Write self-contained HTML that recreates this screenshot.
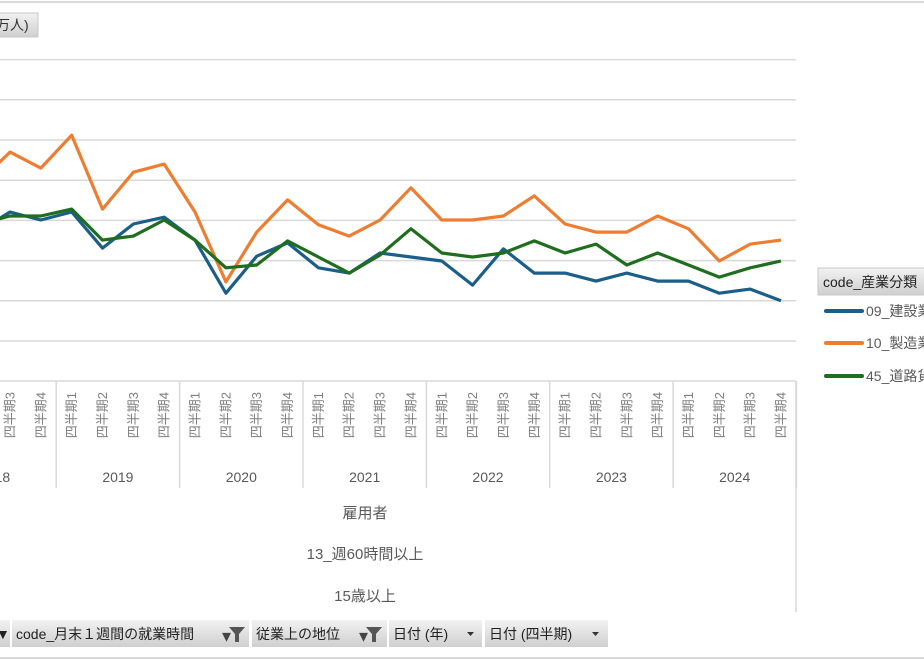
<!DOCTYPE html>
<html><head><meta charset="utf-8">
<style>
html,body{margin:0;padding:0;background:#fff;}
body{width:924px;height:660px;overflow:hidden;position:relative;font-family:"Liberation Sans","Noto Sans CJK JP",sans-serif;}
svg{position:absolute;left:0;top:0;}
</style></head>
<body>
<svg id="chart" width="924" height="660" xmlns="http://www.w3.org/2000/svg">
  <line x1="0" y1="2" x2="924" y2="2" stroke="#d9d9d9" stroke-width="2"/>
  <defs>
    <linearGradient id="btn" x1="0" y1="0" x2="0" y2="1">
      <stop offset="0" stop-color="#f2f2f2"/><stop offset="1" stop-color="#cfcfcf"/>
    </linearGradient>
  </defs>
  <g>
    <rect x="-2" y="13" width="40" height="24" fill="url(#btn)" stroke="#c8c8c8"/>
    <text x="-4" y="30" font-size="14" fill="#333">万人)</text>
  </g>
  <g id="grid"></g>
  <g id="series"></g>
  <g id="xaxis"></g>
  <g font-size="15" fill="#595959" text-anchor="middle">
    <text x="365" y="518">雇用者</text>
    <text x="365" y="559">13_週60時間以上</text>
    <text x="365" y="601">15歳以上</text>
  </g>
  <g>
    <rect x="818" y="268" width="110" height="27" fill="url(#btn)" stroke="#c8c8c8"/>
    <text x="823" y="287" font-size="14" fill="#222">code_産業分類</text>
    <g>
      <line x1="826" y1="311" x2="862" y2="311" stroke="#1b5e8a" stroke-width="4" stroke-linecap="round"/>
      <text x="866" y="316" font-size="14" fill="#595959">09_建設業</text>
    </g>
    <g>
      <line x1="826" y1="343" x2="862" y2="343" stroke="#ed7d31" stroke-width="4" stroke-linecap="round"/>
      <text x="866" y="348" font-size="14" fill="#595959">10_製造業</text>
    </g>
    <g>
      <line x1="826" y1="376" x2="862" y2="376" stroke="#1e6e1e" stroke-width="4" stroke-linecap="round"/>
      <text x="866" y="381" font-size="14" fill="#595959">45_道路貨物運送業</text>
    </g>
  </g>
  <g font-size="14" fill="#222">
    <g>
      <rect x="-2" y="620" width="12" height="27" fill="url(#btn)"/>
      <text x="-4" y="639">▼</text>
    </g>
    <g>
      <rect x="12" y="620" width="237" height="27" fill="url(#btn)"/>
      <text x="16" y="639">code_月末１週間の就業時間</text>
      <text x="222" y="642" font-size="18" fill="#444">▾</text>
      <path d="M229 627 h16 l-6 7 v8 h-4 v-8 z" fill="#555"/>
    </g>
    <g>
      <rect x="252" y="620" width="135" height="27" fill="url(#btn)"/>
      <text x="256" y="639">従業上の地位</text>
      <text x="359" y="642" font-size="18" fill="#444">▾</text>
      <path d="M366 627 h16 l-6 7 v8 h-4 v-8 z" fill="#555"/>
    </g>
    <g>
      <rect x="389" y="620" width="93" height="27" fill="url(#btn)"/>
      <text x="393" y="639">日付 (年)</text>
      <path d="M467 632 h7 l-3.5 4 z" fill="#333"/>
    </g>
    <g>
      <rect x="485" y="620" width="123" height="27" fill="url(#btn)"/>
      <text x="489" y="639">日付 (四半期)</text>
      <path d="M592 632 h7 l-3.5 4 z" fill="#333"/>
    </g>
  </g>
  <line x1="0" y1="658" x2="924" y2="658" stroke="#d9d9d9" stroke-width="2"/>
</svg>
<script>
const categories = ["2018Q2","2018Q3","2018Q4","2019Q1","2019Q2","2019Q3","2019Q4","2020Q1","2020Q2","2020Q3","2020Q4","2021Q1","2021Q2","2021Q3","2021Q4","2022Q1","2022Q2","2022Q3","2022Q4","2023Q1","2023Q2","2023Q3","2023Q4","2024Q1","2024Q2","2024Q3","2024Q4"];
const construction = [27.4,32.1,30.1,32.1,23.1,29.1,30.8,25.1,11.9,21.1,24.4,18.2,16.9,21.9,20.9,19.9,13.9,22.9,16.9,16.9,14.9,16.9,14.9,14.9,11.9,12.9,10.0];
const manufacturing = [39.6,47.0,43.0,51.2,32.8,42.0,44.0,32.1,14.7,27.1,35.1,28.9,26.1,30.1,38.1,30.1,30.1,31.1,36.1,29.1,27.1,27.1,31.1,27.9,19.9,24.1,25.1];
const roadFreight = [29.1,31.1,31.1,32.8,25.1,26.1,30.1,25.1,18.2,18.9,24.9,20.9,16.9,21.4,27.9,21.9,20.9,21.9,24.9,21.9,24.1,18.9,21.9,18.9,15.9,18.2,19.9];
const years = ["2018","2019","2020","2021","2022","2023","2024"];
const yTicks = [0,10,20,30,40,50,60,70];

const NS="http://www.w3.org/2000/svg";
const X0=-20.84, DX=30.84, Y0=341, PER=4.02, RIGHT=796;
const xOf=i=>X0+i*DX;
const yOf=v=>Y0-v*PER;
function mk(tag,attrs,parent){const e=document.createElementNS(NS,tag);for(const k in attrs)e.setAttribute(k,attrs[k]);parent.appendChild(e);return e;}

const gridG=document.getElementById('grid');
yTicks.forEach(t=>{
  const l=mk('line',{x1:0,x2:RIGHT,y1:yOf(t),y2:yOf(t),stroke:'#d9d9d9','stroke-width':1.5},gridG);
  
  
});

const seriesG=document.getElementById('series');
[[construction,'#1b5e8a','line-construction'],[manufacturing,'#ed7d31','line-manufacturing'],[roadFreight,'#1e6e1e','line-road-freight']].forEach(([vals,col,name])=>{
  const pts=vals.map((v,i)=>xOf(i).toFixed(1)+','+yOf(v).toFixed(1)).join(' ');
  const p=mk('polyline',{points:pts,fill:'none',stroke:col,'stroke-width':3.2,'stroke-linejoin':'round'},seriesG);
  
  
});

const xaG=document.getElementById('xaxis');
const axisTopLine=mk('line',{x1:0,x2:RIGHT,y1:381,y2:381,stroke:'#d9d9d9','stroke-width':1.5},xaG);


const axisRightLine=mk('line',{x1:RIGHT,x2:RIGHT,y1:381,y2:612,stroke:'#d9d9d9','stroke-width':1.5},xaG);


categories.forEach((c,i)=>{
  const x=xOf(i);
  if(x<-5) return;
  const q=c.slice(5);
  const t=mk('text',{x:0,y:0,'font-size':13,fill:'#7f7f7f','text-anchor':'end',transform:`translate(${(x+4.5).toFixed(1)},392) rotate(-90)`},xaG);
  t.textContent='四半期'+q;
  
  
  if(q==='4'){
    const s=mk('line',{x1:x+DX/2,x2:x+DX/2,y1:381,y2:488,stroke:'#d9d9d9','stroke-width':1.5},xaG);
    
    
  }
});
years.forEach(y=>{
  const idx=categories.indexOf(y+'Q1');
  const cx = idx>=0 ? xOf(idx)+1.5*DX : xOf(categories.indexOf(y+'Q4'))-1.5*DX;
  const t=mk('text',{x:cx.toFixed(1),y:482,'font-size':14,fill:'#595959','text-anchor':'middle'},xaG);
  t.textContent=y;
  
  
});
</script>
</body></html>
